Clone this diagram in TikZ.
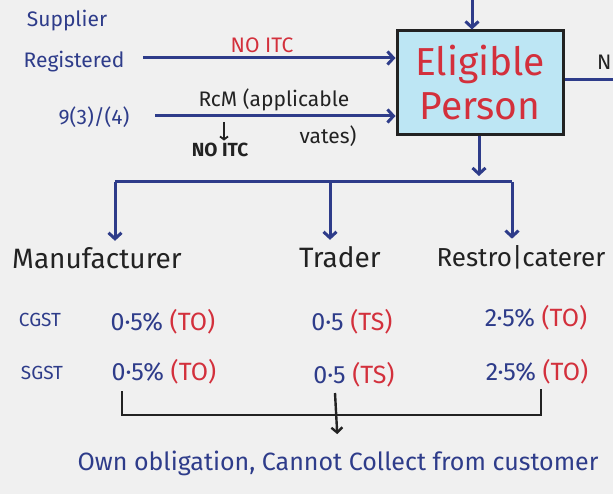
\documentclass[tikz,border=0pt]{standalone}
\usepackage{fontspec}
\setmainfont{Fira Sans}
\usetikzlibrary{positioning}
\usetikzlibrary{calc}
\usetikzlibrary{arrows.meta}
\definecolor{inkblue}{HTML}{2E3C8A}
\definecolor{inkred}{HTML}{D3303C}
\definecolor{inkblack}{HTML}{222222}
\definecolor{boxfill}{HTML}{BDE6F4}
\definecolor{paper}{HTML}{F0F0F0}

\begin{document}
\begin{tikzpicture}[x=1pt, y=-1pt, ->, >={Straight Barb[length=6pt,width=13pt]}, line width=3pt, draw=inkblue]
    \tikzstyle{block}=[draw=inkblack,rectangle,fill=boxfill,minimum width=166pt,minimum height=104pt,line width=3pt,text=inkred,font=\fontsize{39}{44}\selectfont,align=center]
    \tikzstyle{lbl}=[text=inkblue,font=\fontsize{21}{25}\selectfont,inner sep=1pt]
    \tikzstyle{tax}=[text=inkblue,font=\fontsize{19}{22}\selectfont,inner sep=1pt]
    \tikzstyle{head}=[text=inkblack,font=\fontsize{28}{32}\selectfont,inner sep=1pt]
    \tikzstyle{rate}=[text=inkblue,font=\fontsize{25}{29}\selectfont,inner sep=1pt]
    \tikzstyle{note}=[text=inkblack,font=\fontsize{21}{25}\selectfont,inner sep=1pt]
    \tikzstyle{bracket}=[draw=inkblack,line width=2.4pt]

    \fill[-, paper] (0,0) rectangle (613,494);
    \useasboundingbox (0,0) rectangle (613,494);

    % inputs
    \node[lbl] (sup) at (67,21) {Supplier};
    \node[lbl] (reg) at (74,62) {Registered};
    \node[lbl] (sec) at (94,117) {9(3)/(4)};
    \node[block] (ep) at (480,83) {Eligible\\Person};

    \coordinate (in1) at (143,58);
    \coordinate (in2) at (155,116);
    \draw (in1) -- (in1 -| ep.west);
    \draw (in2) -- (in2 -| ep.west);
    \coordinate (top) at (472,-3);
    \draw (top) -- (top |- ep.north);
    \coordinate (out) at (616,80);
    \draw[-] (out -| ep.east) -- (out);

    \node[text=inkred, font=\fontsize{21}{25}\selectfont] (noitc) at (262,45) {NO ITC};
    \node[note, anchor=west] (rcm) at (196,100) {RcM (applicable};
    \node[note] (vates) at (328,136) {vates)};
    \node[note, font=\fontsize{19}{22}\selectfont\bfseries] (noitcb) at (220,150) {NO ITC};
    \node[note, anchor=east, inner sep=0pt] (nxt) at (613,62) {N};
    \coordinate (rcmdown) at (224,122);
    \draw[bracket, line width=1.8pt, >={Straight Barb[length=3pt,width=8pt]}] (rcmdown) -- (rcmdown |- noitcb.north);

    % branches
    \coordinate (split) at (479,182);
    \draw[shorten >=6pt] (ep.south -| split) -- (split);
    \node[head] (man) at (97,258) {Manufacturer};
    \node[head] (trd) at (340,257) {Trader};
    \node[head, anchor=west, font=\fontsize{26}{30}\selectfont] (res) at (434,257) {Restro|caterer};
    \coordinate (bl) at (115,182);
    \coordinate (bm) at (330,182);
    \coordinate (br) at (512,182);
    \draw[-] (bl) -- (br);
    \draw[shorten >=4pt] (bl) -- (bl |- man.north);
    \draw[shorten >=4pt] (bm) -- (bm |- trd.north);
    \draw[shorten >=4pt] (br) -- (br |- res.north);

    % rates
    \node[tax] (cg) at (40,320) {CGST};
    \node[tax] (sg) at (42,373) {SGST};
    \node[rate] (m1) at (163,322) {0·5\% \textcolor{inkred}{(TO)}};
    \node[rate] (m2) at (164,372) {0·5\% \textcolor{inkred}{(TO)}};
    \node[rate] (t1) at (352,322) {0·5 \textcolor{inkred}{(TS)}};
    \node[rate] (t2) at (354,375) {0·5 \textcolor{inkred}{(TS)}};
    \node[rate] (r1) at (536,318) {2·5\% \textcolor{inkred}{(TO)}};
    \node[rate] (r2) at (537,372) {2·5\% \textcolor{inkred}{(TO)}};

    % own obligation
    \coordinate (k1) at (122,391);
    \coordinate (k2) at (335,393);
    \coordinate (k3) at (541,389);
    \coordinate (jn) at (335,415);
    \draw[-, bracket] (k1) |- (jn) -| (k3);
    \node[lbl, font=\fontsize{25}{29}\selectfont] (own) at (338,463) {Own obligation, Cannot Collect from customer};
    \draw[bracket, shorten >=14pt, >={Straight Barb[length=5pt,width=11pt]}] (k2) -- (own.north);
\end{tikzpicture}
\end{document}
